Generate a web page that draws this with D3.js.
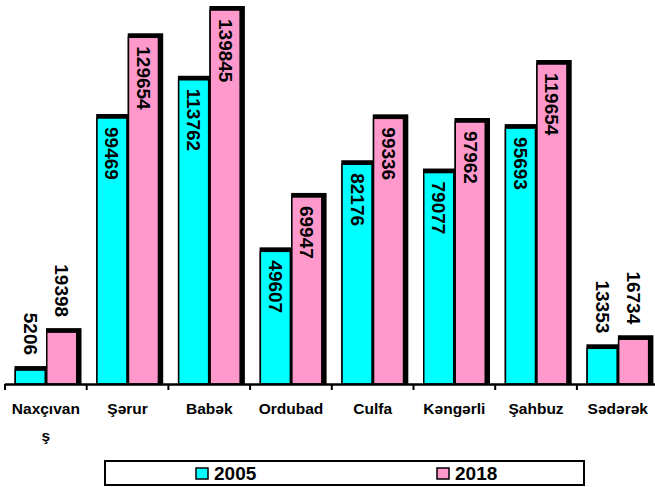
<!DOCTYPE html>
<html>
<head>
<meta charset="utf-8">
<script src="https://cdn.jsdelivr.net/npm/d3@7"></script>
<style>
  html, body { margin: 0; padding: 0; background: #fff; }
  svg { display: block; }
  text { font-family: "Liberation Sans", Arial, sans-serif; font-weight: bold; fill: #000; }
</style>
</head>
<body>
<svg id="chart" width="655" height="487"></svg>
<script>
const categories = ["Naxçıvan\nş", "Şərur", "Babək", "Ordubad", "Culfa", "Kəngərli", "Şahbuz", "Sədərək"];
const seriesNames = ["2005", "2018"];
const values2005 = [5206, 99469, 113762, 49607, 82176, 79077, 95693, 13353];
const values2018 = [19398, 129654, 139845, 69947, 99336, 97962, 119654, 16734];
const seriesColors = ["#00FFFF", "#FF99CC"];
const yDomain = [0, 140000];

const svg = d3.select("#chart");
const base = 384;
const depth = 4;

const x = d3.scaleBand().domain(categories).range([5, 658.6]).paddingInner(0).paddingOuter(0);
const xs = d3.scaleBand().domain(seriesNames).range([9.5, 72.5]);
const y = d3.scaleLinear().domain(yDomain).range([base, 9.6]);

const seriesData = [values2005, values2018];

const rows = categories.map((c, i) => ({ c, vals: seriesNames.map((s, k) => ({ s, k, v: seriesData[k][i] })) }));

const groups = svg.append("g").selectAll("g").data(rows).join("g")
  .attr("transform", d => `translate(${x(d.c)},0)`);

groups.each(function(d) {
  const g = d3.select(this);
  d.vals.forEach(p => {
    const bx = xs(p.s), bw = xs.bandwidth();
    const top = y(p.v);
    g.append("rect")
      .attr("x", bx).attr("y", top - depth)
      .attr("width", bw + depth).attr("height", base - top + depth)
      .attr("fill", "#000");
    g.append("rect")
      .attr("x", bx + 0.75).attr("y", top)
      .attr("width", bw - 1.5).attr("height", base - top)
      .attr("fill", seriesColors[p.k])
      .attr("stroke", "#000").attr("stroke-width", 1.5);
  });
});

groups.each(function(d) {
  const g = d3.select(this);
  d.vals.forEach(p => {
    const cx = xs(p.s) + xs.bandwidth() / 2;
    const top = y(p.v);
    const t = g.append("text")
      .attr("font-size", 19)
      .attr("dominant-baseline", "central")
      .text(p.v);
    const len = t.node().getComputedTextLength();
    const h = base - top;
    if (h > len + 20) {
      t.attr("text-anchor", "start")
        .attr("transform", `translate(${cx},${top + 9}) rotate(90)`);
    } else {
      t.attr("text-anchor", "end")
        .attr("transform", `translate(${cx},${top - 15}) rotate(90)`);
    }
  });
});

const xAxis = d3.axisBottom(x).tickSize(0).tickPadding(0);
const axisG = svg.append("g").attr("transform", `translate(0,${base})`).call(xAxis);
axisG.select(".domain").remove();
axisG.selectAll("text")
  .attr("font-size", 15.5)
  .attr("font-family", "Liberation Sans, Arial, sans-serif")
  .attr("font-weight", "bold")
  .attr("fill", "#000")
  .attr("y", 0).attr("dy", null)
  .each(function(d) {
    const t = d3.select(this);
    const lines = d.split("\n");
    t.text(null);
    lines.forEach((ln, i) => {
      t.append("tspan").attr("x", 0).attr("y", 30 + i * 27).text(ln);
    });
  });

svg.append("line")
  .attr("x1", 5).attr("x2", 655).attr("y1", base + 0.5).attr("y2", base + 0.5)
  .attr("stroke", "#000").attr("stroke-width", 2.5);

const boundaries = categories.map(c => x(c)).concat([x.range()[1]]);
svg.append("g").selectAll("line").data(boundaries).join("line")
  .attr("x1", d => d).attr("x2", d => d)
  .attr("y1", base).attr("y2", base + 6)
  .attr("stroke", "#000").attr("stroke-width", 2);

const lg = svg.append("g");
lg.append("rect").attr("x", 105).attr("y", 461).attr("width", 479).attr("height", 24)
  .attr("fill", "#fff").attr("stroke", "#000").attr("stroke-width", 2);
const legendX = [196, 437];
seriesNames.forEach((s, k) => {
  lg.append("rect").attr("x", legendX[k]).attr("y", 468).attr("width", 12).attr("height", 11)
    .attr("fill", seriesColors[k]).attr("stroke", "#000").attr("stroke-width", 1.5);
  lg.append("text").attr("x", legendX[k] + 18).attr("y", 480)
    .attr("font-size", 19).text(s);
});
</script>
</body>
</html>
